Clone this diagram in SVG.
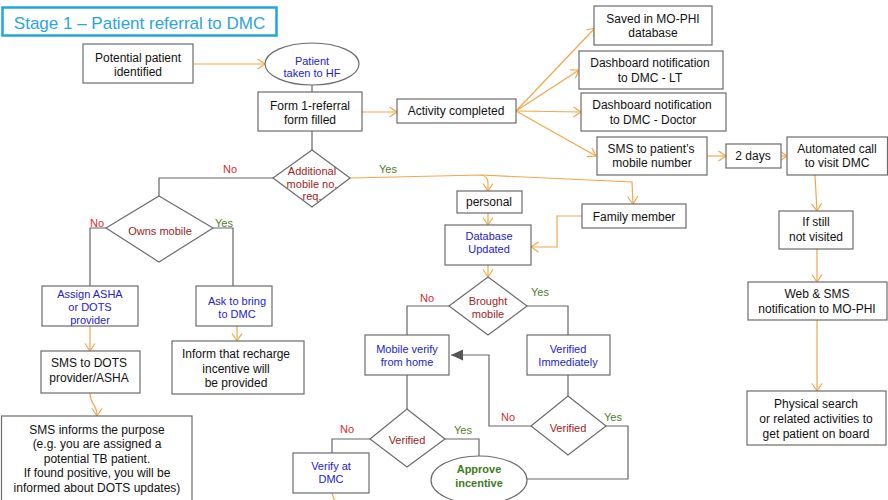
<svg xmlns="http://www.w3.org/2000/svg" width="888" height="500" viewBox="0 0 888 500">
<defs>
<style>
.box{fill:#fff;stroke:#6b6b6b;stroke-width:1.2}
text{font-family:"Liberation Sans",Arial,sans-serif;font-size:12px;fill:#111;text-anchor:middle}
.b{fill:#2222cc;font-size:11px}
.r{fill:#a01c1c;font-size:11px}
.no{fill:#d92b2b;font-size:11px}
.yes{fill:#4f7d2b;font-size:11px}
.g{fill:#3f7a22;font-size:11px;font-weight:bold}
.oc{fill:none;stroke:#f4a64a;stroke-width:1.2;marker-end:url(#ao)}
.on{fill:none;stroke:#f4a64a;stroke-width:1.2}
.gc{fill:none;stroke:#666;stroke-width:1.2}
</style>
<marker id="ao" markerWidth="10" markerHeight="12" refX="8.5" refY="6" orient="auto" markerUnits="userSpaceOnUse"><path d="M1,1 L8.5,6 L1,11" fill="none" stroke="#f4a64a" stroke-width="1.2"/></marker>
<marker id="ag" markerWidth="13" markerHeight="12" refX="12" refY="6" orient="auto" markerUnits="userSpaceOnUse"><path d="M0,0.5 L12,6 L0,11.5 Z" fill="#555"/></marker>
</defs>
<rect width="888" height="500" fill="#fff"/>
<g id="title"><rect x="2.5" y="7.5" width="274" height="28" fill="#fff" stroke="#22a5de" stroke-width="2.5"/><text x="139.5" y="28.5" style="font-size:17px;fill:#2aa6dd">Stage 1 – Patient referral to DMC</text></g>
<g id="connectors">
<path class="gc" d="M312,85 L312,92"/>
<path class="gc" d="M312,131 L312,150"/>
<path class="gc" d="M273,178 L159,178 L159,196"/>
<path class="gc" d="M106,228 L90,228 L90,286"/>
<path class="gc" d="M213,228 L233,228 L233,286"/>
<path class="gc" d="M449,306 L407,306 L407,335"/>
<path class="gc" d="M527,306 L568,306 L568,335"/>
<path class="gc" d="M568,375 L568,396"/>
<path class="gc" d="M531,426 L489,426 L489,355 L451,355" marker-end="url(#ag)"/>
<path class="gc" d="M606,426 L628,426 L628,479 L527,479"/>
<path class="gc" d="M407,375 L407,409"/>
<path class="gc" d="M370,439 L332,439 L332,453"/>
<path class="gc" d="M445,439 L479,439 L479,456"/>
<path class="oc" d="M193,64 L265,64"/>
<path class="oc" d="M362,112 L397,112"/>
<path class="oc" d="M516,111 L595,28"/>
<path class="oc" d="M516,111 L579,70"/>
<path class="oc" d="M516,111 L581,112"/>
<path class="oc" d="M516,111 L596,156"/>
<path class="oc" d="M707,156 L726,156"/>
<path class="oc" d="M781,156 L787,156"/>
<path class="oc" d="M815,175 L817,211"/>
<path class="oc" d="M817,249 L817,282"/>
<path class="oc" d="M817,320 L817,391"/>
<path class="oc" d="M90,326 L90,351"/>
<path class="oc" d="M237,326 L237,341"/>
<path class="oc" d="M90,393 C90,405 97,403 97,416"/>
<path class="oc" d="M350,178 L481,175 Q488,176 488,183 L488,191"/>
<path class="oc" d="M481,175 L632,182 L633,204"/>
<path class="oc" d="M488,213 L488,225"/>
<path class="oc" d="M582,216 L557,216 L557,247 L531,247"/>
<path class="oc" d="M488,265 L488,277"/>
<path class="on" d="M332,493 Q333,497 335,501"/>
<text class="no" x="230" y="173">No</text>
<text class="yes" x="388" y="173">Yes</text>
<text class="no" x="97" y="227">No</text>
<text class="yes" x="224" y="227">Yes</text>
<text class="no" x="427" y="302">No</text>
<text class="yes" x="540" y="296">Yes</text>
<text class="no" x="508" y="421">No</text>
<text class="yes" x="613" y="421">Yes</text>
<text class="no" x="347" y="433">No</text>
<text class="yes" x="463" y="434">Yes</text>
</g>
<g id="potential"><rect class="box" x="83" y="44" width="110" height="39"/><text x="138" y="62">Potential patient</text><text x="138" y="76">identified</text></g>
<g id="patientHF"><ellipse cx="312" cy="64" rx="47" ry="21" fill="#fff" stroke="#6b6b6b" stroke-width="1.2"/><text class="b" x="312" y="65">Patient</text><text class="b" x="312" y="77">taken to HF</text></g>
<g id="form1"><rect class="box" x="258" y="92" width="104" height="39"/><text x="310" y="110">Form 1-referral</text><text x="310" y="124">form filled</text></g>
<g id="activity"><rect class="box" x="397" y="99" width="119" height="24"/><text x="456" y="115">Activity completed</text></g>
<g id="saved"><rect class="box" x="594" y="6" width="118" height="39"/><text x="653" y="23">Saved in MO-PHI</text><text x="653" y="37">database</text></g>
<g id="dashLT"><rect class="box" x="579" y="51" width="144" height="38"/><text x="650" y="67">Dashboard notification</text><text x="650" y="82">to DMC - LT</text></g>
<g id="dashDoc"><rect class="box" x="581" y="93" width="145" height="38"/><text x="652" y="109">Dashboard notification</text><text x="653" y="124">to DMC - Doctor</text></g>
<g id="sms"><rect class="box" x="597" y="137" width="110" height="38"/><text x="651" y="153">SMS to patient’s</text><text x="652" y="167">mobile number</text></g>
<g id="twodays"><rect class="box" x="726" y="144" width="55" height="24"/><text x="753" y="160">2 days</text></g>
<g id="autocall"><rect class="box" x="787" y="137" width="100.5" height="38"/><text x="837" y="153">Automated call</text><text x="837" y="167">to visit DMC</text></g>
<g id="stillnot"><rect class="box" x="779" y="211" width="74" height="38"/><text x="816" y="226">If still</text><text x="816" y="241">not visited</text></g>
<g id="websms"><rect class="box" x="748" y="282" width="139" height="38"/><text x="817" y="298">Web &amp; SMS</text><text x="817" y="313">notification to MO-PHI</text></g>
<g id="physical"><rect class="box" x="747" y="391" width="139" height="54"/><text x="816" y="408">Physical search</text><text x="816" y="423">or related activities to</text><text x="816" y="438">get patient on board</text></g>
<g id="addmobile"><polygon class="box" points="312,150 350,178 312,207 273,178"/><text class="r" x="312" y="175">Additional</text><text class="r" x="312" y="188">mobile no.</text><text class="r" x="312" y="200">req.</text></g>
<g id="ownsmobile"><polygon class="box" points="159,196 213,228 159,262 106,228"/><text class="r" x="160" y="235">Owns mobile</text></g>
<g id="assign"><rect class="box" x="42" y="286" width="96" height="40"/><text class="b" x="90" y="298">Assign ASHA</text><text class="b" x="90" y="311">or DOTS</text><text class="b" x="90" y="324">provider</text></g>
<g id="ask"><rect class="box" x="196" y="286" width="76" height="40"/><text class="b" x="237" y="305">Ask to bring</text><text class="b" x="237" y="318">to DMC</text></g>
<g id="smsdots"><rect class="box" x="41" y="351" width="99" height="42"/><text x="89" y="367">SMS to DOTS</text><text x="89" y="382">provider/ASHA</text></g>
<g id="inform"><rect class="box" x="172" y="341" width="132" height="53"/><text x="236" y="358">Inform that recharge</text><text x="236" y="373">incentive will</text><text x="236" y="387">be provided</text></g>
<g id="smsinforms"><rect class="box" x="1.5" y="416" width="190.5" height="90"/><text x="97" y="434">SMS informs the purpose</text><text x="97" y="448">(e.g. you are assigned a</text><text x="97" y="463">potential TB patient.</text><text x="97" y="477">If found positive, you will be</text><text x="97" y="492">informed about DOTS updates)</text></g>
<g id="personal"><rect class="box" x="457" y="191" width="65" height="22"/><text x="489" y="206">personal</text></g>
<g id="family"><rect class="box" x="582" y="204" width="104" height="24"/><text x="634" y="221">Family member</text></g>
<g id="database"><rect class="box" x="445" y="225" width="86" height="40"/><text class="b" x="489" y="240">Database</text><text class="b" x="489" y="253">Updated</text></g>
<g id="brought"><polygon class="box" points="488,277 527,306 488,335 449,306"/><text class="r" x="488" y="305">Brought</text><text class="r" x="488" y="318">mobile</text></g>
<g id="mobileverify"><rect class="box" x="365" y="335" width="84" height="40"/><text class="b" x="407" y="353">Mobile verify</text><text class="b" x="407" y="366">from home</text></g>
<g id="verifiedimm"><rect class="box" x="527" y="335" width="83" height="40"/><text class="b" x="568" y="353">Verified</text><text class="b" x="568" y="366">Immediately</text></g>
<g id="verifiedRight"><polygon class="box" points="568,396 606,426 568,455 531,426"/><text class="r" x="568" y="432">Verified</text></g>
<g id="verifiedLeft"><polygon class="box" points="407,409 445,439 407,467 370,439"/><text class="r" x="407" y="444">Verified</text></g>
<g id="verifydmc"><rect class="box" x="293" y="453" width="76" height="40"/><text class="b" x="331" y="470">Verify at</text><text class="b" x="331" y="483">DMC</text></g>
<g id="approve"><ellipse cx="479" cy="480" rx="48" ry="24" fill="#fff" stroke="#6b6b6b" stroke-width="1.2"/><text class="g" x="479" y="473">Approve</text><text class="g" x="479" y="487">incentive</text></g>
</svg>
